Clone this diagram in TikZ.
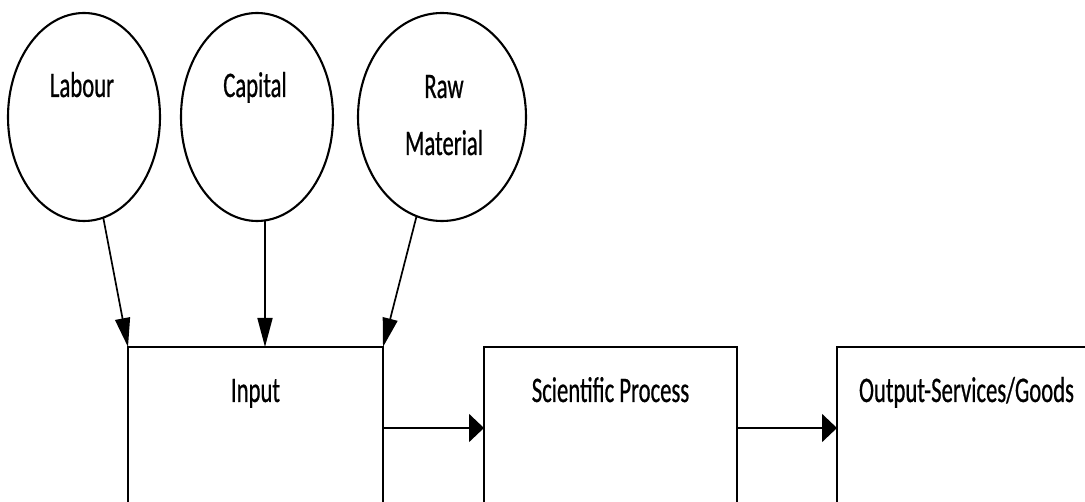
\documentclass[tikz,border=0pt]{standalone}
\usepackage{fontspec}
% narrow sans face used for every label
\newfontfamily\diafont[FakeStretch=0.63,FakeBold=0.6]{Carlito}
\usetikzlibrary{shapes.geometric,arrows.meta,calc}
\begin{document}
\begin{tikzpicture}[x=1pt,y=-1pt,
  every node/.style={inner sep=0pt, outer sep=0pt},
  res/.style={draw, line width=2.1pt, ellipse, minimum width=152pt, minimum height=208pt},
  stage/.style={draw, line width=2pt, rectangle, minimum width=255pt, minimum height=162pt, anchor=north west},
  lbl/.style={font=\diafont\fontsize{36}{44}\selectfont, anchor=base},
  down/.style={line width=1.7pt, -{Triangle[length=29pt,width=15pt]}},
  flow/.style={line width=1.8pt, -{Triangle[length=15pt,width=28pt]}}
]
\clip (0,0) rectangle (1085,502);

% resources
\node[res] (lab) at (84,117) {};
\node[res] (cap) at (257,117) {};
\node[res, minimum width=168pt] (raw) at (442,117) {};

\node[lbl] (labt) at (82,97) {Labour};
\node[lbl] (capt) at (255,97) {Capital};
\node[lbl] (rawt1) at (444,98) {Raw};
\node[lbl] (rawt2) at (444,155) {Material};

% process stages
\node[stage] (inp) at (128,347) {};
\node[stage, minimum width=253pt] (sci) at (484,347) {};
\node[stage] (out) at (837,347) {};

\node[lbl] (inpt) at ($(inp.north)+(0,55)$) {Input};
\node[lbl] (scit) at ($(sci.north)+(0,55)$) {Scientific Process};
\node[lbl] (outt) at ($(out.north)+(2,55)$) {Output-Services/Goods};

% connectors
\coordinate (capin) at ($(inp.north)+(9.5,0)$);
\draw[down] (lab) -- (inp.north west);
\draw[down] (cap.south -| capin) -- (capin);
\draw[down] (raw) -- (inp.north east);
\draw[flow] (inp.east) -- (sci.west);
\draw[flow] (sci.east) -- (out.west);
\end{tikzpicture}
\end{document}
